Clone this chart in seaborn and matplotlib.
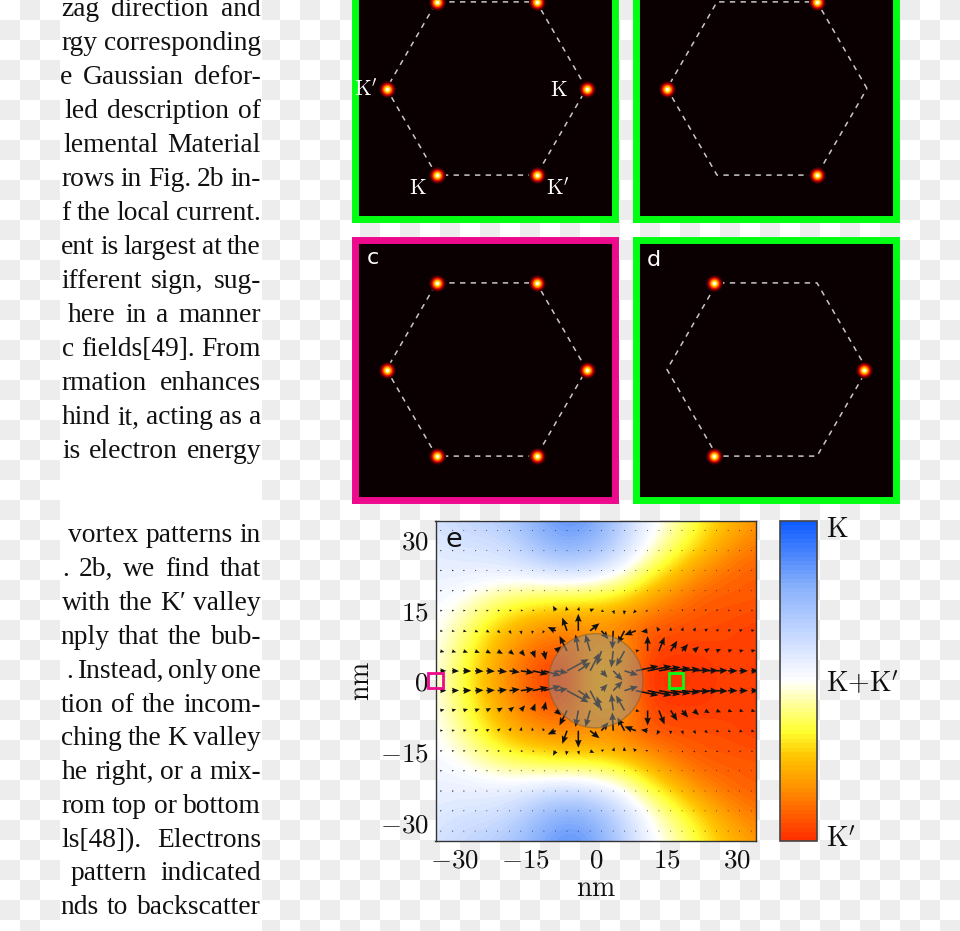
import numpy as np
import matplotlib
matplotlib.use("Agg")
import matplotlib.pyplot as plt
from matplotlib.colors import LinearSegmentedColormap
from matplotlib.patches import Circle, Rectangle
import seaborn as sns

sns.set_theme(style="white")
plt.rcParams["mathtext.fontset"] = "cm"
plt.rcParams["axes.grid"] = False

W, H = 960, 931

# visible part of the page column, with the x where each line starts
LINES_TOP = ["zag direction and", "rgy corresponding", "e Gaussian defor-",
             "led description of", "lemental Material", "rows in Fig. 2b in-",
             "f the local current.", "ent is largest at the", "ifferent sign, sug-",
             "here in a manner", "c fields[49]. From", "rmation enhances",
             "hind it, acting as a", "is electron energy"]
STARTS_TOP = [61, 61, 60, 64, 63, 61, 61, 61, 61, 68, 62, 61, 62, 62]
LINES_BOTTOM = ["vortex patterns in", ". 2b, we find that", "with the K\u2032 valley",
                "nply that the bub-", ". Instead, only one", "tion of the incom-",
                "ching the K valley", "he right, or a mix-", "rom top or bottom",
                "ls[48]). Electrons", "pattern indicated", "nds to backscatter"]
STARTS_BOTTOM = [68, 62, 62, 60, 66, 61, 61, 62, 61, 61, 71, 60]

# hexagon corners, anticlockwise from the right one
HEX_X = [1.0, 0.5, -0.5, -1.0, -0.5, 0.5]
HEX_Y = [0.0, 0.866, 0.866, 0.0, -0.866, -0.866]
SPOTS_A = [0, 1, 2, 3, 4, 5]
SPOTS_B = [1, 3, 5]
SPOTS_C = [0, 1, 2, 3, 4, 5]
SPOTS_D = [0, 2, 4]

# colour field of panel e, top half, rows y = 34 ... 0, columns x = -34 ... 34
FIELD_TOP = [
    [0.20, 0.30, 0.35, 0.45, 0.65, 0.75, 0.65, 0.35, 0.05, -0.10, -0.35, -0.50, -0.65],
    [0.15, 0.20, 0.20, 0.30, 0.50, 0.60, 0.50, 0.25, 0.00, -0.25, -0.45, -0.65, -0.75],
    [0.10, 0.10, 0.10, 0.10, 0.15, 0.20, 0.12, 0.00, -0.30, -0.50, -0.70, -0.80, -0.85],
    [0.05, -0.02, -0.15, -0.25, -0.30, -0.35, -0.35, -0.45, -0.60, -0.75, -0.85, -0.85, -0.85],
    [0.02, -0.15, -0.38, -0.55, -0.65, -0.70, -0.70, -0.75, -0.85, -0.88, -0.88, -0.90, -0.95],
    [0.00, -0.25, -0.50, -0.70, -0.85, -0.85, -0.55, -0.60, -0.92, -0.95, -0.95, -0.93, -0.95],
    [0.00, -0.30, -0.55, -0.75, -0.95, -0.95, -0.45, -0.70, -1.00, -1.00, -0.97, -0.92, -0.95],
]

# current arrows of panel e
ARROW_X = [-33, -30.5, -28.1, -25.6, -23.2, -20.8, -18.3, -15.9, -13.4, -11, -8.5, -6.1, -3.7, -1.2,
           1.2, 3.7, 6.1, 8.5, 11, 13.4, 15.9, 18.3, 20.8, 23.2, 25.6, 28.1, 30.5, 33]
ARROW_Y = [2.1, 6.3, 10.6, 14.9, 19.1, 23.4, 27.6, 31.9]
ARROW_U = [
    [1.3, 1.5, 1.7, 1.8, 1.8, 2.0, 2.2, 2.8, 3.3, 3.6, 2.6, 4.6, 2.6, 2.0, 1.3, 2.0, 2.9, 4.8, 5.1, 4.6, 4.2, 3.8, 3.4, 2.8, 2.4, 2.0, 1.8, 1.6],
    [.9, .9, 1.0, 1.0, 1.0, 1.1, 1.0, .9, .6, .4, 1.2, -1.6, -.6, -1.0, -1.0, -.4, -1.8, .8, 0, 1.2, 1.4, 1.3, 1.1, 1.0, 1.0, .9, .9, .9],
    [.6, .6, .7, .7, .7, .6, .4, .2, -.1, -.3, -1.7, -1.0, 0, 2.0, 1.5, -.2, -1.5, -2.4, -1.4, -.5, 0, .3, .5, .6, .6, .6, .7, .7],
    [.5, .5, .5, .5, .5, .5, .5, .5, .4, .2, -.6, -.2, .2, .9, .6, .3, -.1, -.6, -.5, -.3, .1, .3, .3, .4, .4, .4, .4, .4],
    [.45, .4, .4, .4, .35, .3, .3, .3, .3, .3, .2, .1, .1, .1, .1, .1, .1, 0, 0, .1, .1, .1, .1, .1, .1, .1, .1, .1],
    [.4, .4, .35, .3, .3, .25, .25, .25, .2, .2, .1, .1, .1, .1, .1, .1, .1, .1, .1, .1, .1, .1, .1, .1, .1, .1, .1, .1],
    [.35, .35, .3, .3, .25, .2, .2, .2, .15, .15, .1, .1, .1, .1, .1, .1, .1, .1, .1, .1, .1, .1, .1, .1, .1, .1, .1, .1],
    [.3, .3, .25, .2, .2, .15, .15, .1, .1, .1, .1, .1, .1, .1, .1, .1, .1, .1, .1, .1, .1, .1, .1, .1, .1, .1, .1, .1],
]
ARROW_V = [
    [0, -.05, -.05, -.1, -.1, -.2, -.3, -.4, -.7, -1.0, -.4, 2.5, 1.8, 3.8, -1.4, -2.0, -.9, 1.0, 1.0, .8, .6, .4, .2, .1, .1, 0, 0, 0],
    [-.2, -.25, -.3, -.35, -.5, -.6, -.8, -1.1, -1.5, -1.9, 1.0, 3.2, 3.5, 3.5, -3.0, -3.5, -3.2, .2, 3.2, 3.0, 2.2, 1.5, 1.0, .6, .4, .3, .2, .2],
    [-.1, -.15, -.2, -.3, -.35, -.5, -.7, -.8, -.7, -.6, .8, 2.8, 3.6, 1.6, -1.8, -3.9, -2.8, -.9, -.2, .9, .8, .8, .7, .5, .3, .3, .3, .2],
    [-.05, -.05, -.05, -.05, -.05, 0, .05, .05, .1, .1, 1, .9, .8, .4, -.3, -.8, -.9, -.6, -.2, 0, .2, .3, .3, .2, .2, .1, .1, .1],
    [0, 0, 0, 0, 0, 0, 0, 0, 0, .05, .1, .1, .1, .1, 0, 0, -.1, -.1, 0, 0, 0, .05, .05, .05, .05, 0, 0, 0],
    [0, 0, 0, 0, 0, 0, 0, 0, 0, 0, .05, .05, .05, .05, 0, 0, 0, 0, 0, 0, 0, 0, 0, 0, 0, 0, 0, 0],
    [0, 0, 0, 0, 0, 0, 0, 0, 0, 0, 0, 0, 0, 0, 0, 0, 0, 0, 0, 0, 0, 0, 0, 0, 0, 0, 0, 0],
    [0, 0, 0, 0, 0, 0, 0, 0, 0, 0, 0, 0, 0, 0, 0, 0, 0, 0, 0, 0, 0, 0, 0, 0, 0, 0, 0, 0],
]

E_TICKS = [-30, -15, 0, 15, 30]
E_LABELS = [r"$-30$", r"$-15$", r"$0$", r"$15$", r"$30$"]
CBAR_TICKS = [-0.97, 0, 0.97]
CBAR_LABELS = [r"$\mathrm{K}'$", r"$\mathrm{K{+}K}'$", r"$\mathrm{K}$"]

GREEN = "#00ff12"
MAGENTA = "#ee0a8c"
SPOT_LAYERS = [(17, "#300000"), (14, "#900000"), (11.5, "#e81000"), (9, "#ff7000"), (6.5, "#ffd810"), (3.5, "#fffff0")]


def px_axes(left, top, right, bottom, **kw):
    return fig.add_axes([left / W, 1 - bottom / H, (right - left) / W, (bottom - top) / H], **kw)


fig = plt.figure(figsize=(W / 100, H / 100), dpi=100)

# transparent-image checkerboard behind everything
bg = px_axes(0, 0, W, H)
rows = np.arange(47)
cols = np.arange(48)
checker = (rows[:, None] + cols[None, :]) % 2
sns.heatmap(checker, ax=bg, cbar=False, cmap=["#ffffff", "#ededed"], xticklabels=False, yticklabels=False)
bg.set_xlim(0, 48)
bg.set_ylim(H / 20, 0)
bg.axis("off")

# page text column
txt = px_axes(60, 0, 262, H)
txt.set_facecolor("white")
txt.set_xlim(60, 262)
txt.set_ylim(H, 0)
txt.set_xticks([])
txt.set_yticks([])
for s in txt.spines.values():
    s.set_visible(False)
renderer = fig.canvas.get_renderer()


def justified(line, start, y):
    # words are spread so every line ends at the right margin
    words = line.split(" ")
    items = [txt.text(0, y, w, va="center", fontsize=19.8, family="Liberation Serif", color="#111111") for w in words]
    widths = [t.get_window_extent(renderer).width for t in items]
    gap = (261 - start - sum(widths)) / (len(words) - 1)
    x = start
    for t, w in zip(items, widths):
        t.set_x(x)
        x += w + gap


for i, line in enumerate(LINES_TOP):
    justified(line, STARTS_TOP[i], 10 + 34 * i)
for i, line in enumerate(LINES_BOTTOM):
    justified(line, STARTS_BOTTOM[i], 536 + 33.8 * i)


def k_panel(left, top, colour, spots, x_off=0.0, spot_off=0.0, letter=None, letter_xy=None):
    ax = px_axes(left, top, left + 260, top + 260)
    ax.set_facecolor("#0a0002")
    ax.set_xticks([])
    ax.set_yticks([])
    for s in ax.spines.values():
        s.set_color(colour)
        s.set_linewidth(5.0)
    hx = [v + x_off for v in HEX_X]
    ax.plot(hx + hx[:1], HEX_Y + HEX_Y[:1], color="#c8c8c8", lw=1.1, dashes=(3.5, 3.5))
    sx = [hx[i] + spot_off for i in spots]
    sy = [HEX_Y[i] for i in spots]
    for d, c in SPOT_LAYERS:
        sns.scatterplot(x=sx, y=sy, ax=ax, s=(0.72 * d) ** 2, color=c, linewidth=0, legend=False, zorder=3)
    ax.set_xlim(-1.3, 1.3)
    ax.set_ylim(-1.3, 1.3)
    if letter:
        ax.text(letter_xy[0], letter_xy[1], letter, color="white", fontsize=16, family="DejaVu Sans",
                ha="center", va="center")
    return ax


ax_a = k_panel(355, -41.5, GREEN, SPOTS_A, 0.015)
ax_b = k_panel(636, -41.5, GREEN, SPOTS_B, 0.01)
ax_c = k_panel(355, 239.5, MAGENTA, SPOTS_C, 0.015, 0.0, "c", (-1.125, 1.12))
ax_d = k_panel(636, 239.5, GREEN, SPOTS_D, 0.01, -0.03, "d", (-1.125, 1.10))

for x, y, t in [(-1.19, -0.01, r"$\mathrm{K}'$"), (0.735, -0.01, r"$\mathrm{K}$"),
                (-0.675, -1.0, r"$\mathrm{K}$"), (0.73, -1.0, r"$\mathrm{K}'$")]:
    ax_a.text(x, y, t, color="white", fontsize=15.5, ha="center", va="center")

# panel e
cmap = LinearSegmentedColormap.from_list("valley", [
    (0.0, "#ff3000"), (0.08, "#ff6000"), (0.16, "#ff9000"), (0.26, "#ffc400"),
    (0.34, "#ffff30"), (0.42, "#ffff90"), (0.5, "#ffffff"),
    (0.62, "#d0dfff"), (0.8, "#88b0fb"), (1.0, "#0f5cff")], N=72)

top = np.array(FIELD_TOP)
field = np.vstack([top, top[-2::-1]])
step = 68 / 12

ax_e = px_axes(435.5, 520.5, 756, 841)
im = ax_e.imshow(field, cmap=cmap, vmin=-1, vmax=1, interpolation="bicubic", aspect="auto",
                 extent=[-34 - step / 2, 34 + step / 2, -34 - step / 2, 34 + step / 2], zorder=1)
ax_e.set_xlim(-34, 34)
ax_e.set_ylim(-34, 34)

ax_x = np.array(ARROW_X)
up_u, up_v = np.array(ARROW_U), np.array(ARROW_V)
ys = np.array(ARROW_Y)
qx, qy = np.meshgrid(ax_x, np.r_[ys, -ys])
qu = np.vstack([up_u, up_u])
qv = np.vstack([up_v, -up_v])
ax_e.quiver(qx, qy, qu, qv, angles="xy", scale_units="xy", scale=1, pivot="tail", color="#111111",
            width=0.005, headwidth=4.2, headlength=5.0, headaxislength=4.4, minlength=0.6, zorder=2)
ax_e.add_patch(Circle((0, 0), 10, facecolor="#909090", edgecolor="#7a5a30", alpha=0.5, lw=1, zorder=3))

ax_e.set_xticks(E_TICKS, E_LABELS)
ax_e.set_yticks(E_TICKS, E_LABELS)
ax_e.tick_params(axis="both", direction="in", length=3, width=0.7, color="#888888", labelsize=19.5,
                 top=True, right=True, bottom=True, left=True, pad=5, labelcolor="#111111")
ax_e.set_xlabel(r"$\mathrm{nm}$", fontsize=20, labelpad=0, color="#111111")
ax_e.set_ylabel(r"$\mathrm{nm}$", fontsize=20, labelpad=3, color="#111111")
for s in ax_e.spines.values():
    s.set_color("#333333")
    s.set_linewidth(1.0)
ax_e.text(-30.2, 29.8, "e", fontsize=19.5, family="DejaVu Sans", color="#111111", ha="center", va="center", zorder=6)
ax_e.add_patch(Rectangle((-35.5, -1.6), 3.1, 3.2, fill=False, edgecolor=MAGENTA, lw=2, clip_on=False, zorder=7))
ax_e.add_patch(Rectangle((15.5, -1.6), 3.1, 3.2, fill=False, edgecolor=GREEN, lw=2, clip_on=False, zorder=7))

cax = px_axes(780, 521, 816.5, 841)
cb = fig.colorbar(im, cax=cax)
cb.set_ticks(CBAR_TICKS, labels=CBAR_LABELS)
cb.outline.set_edgecolor("#444444")
cb.outline.set_linewidth(1.2)
cax.tick_params(axis="y", direction="in", length=3, width=0.7, color="#999999", labelsize=20, pad=7,
                left=True, right=True, labelcolor="#111111")

fig.savefig("out.png", dpi=100)
